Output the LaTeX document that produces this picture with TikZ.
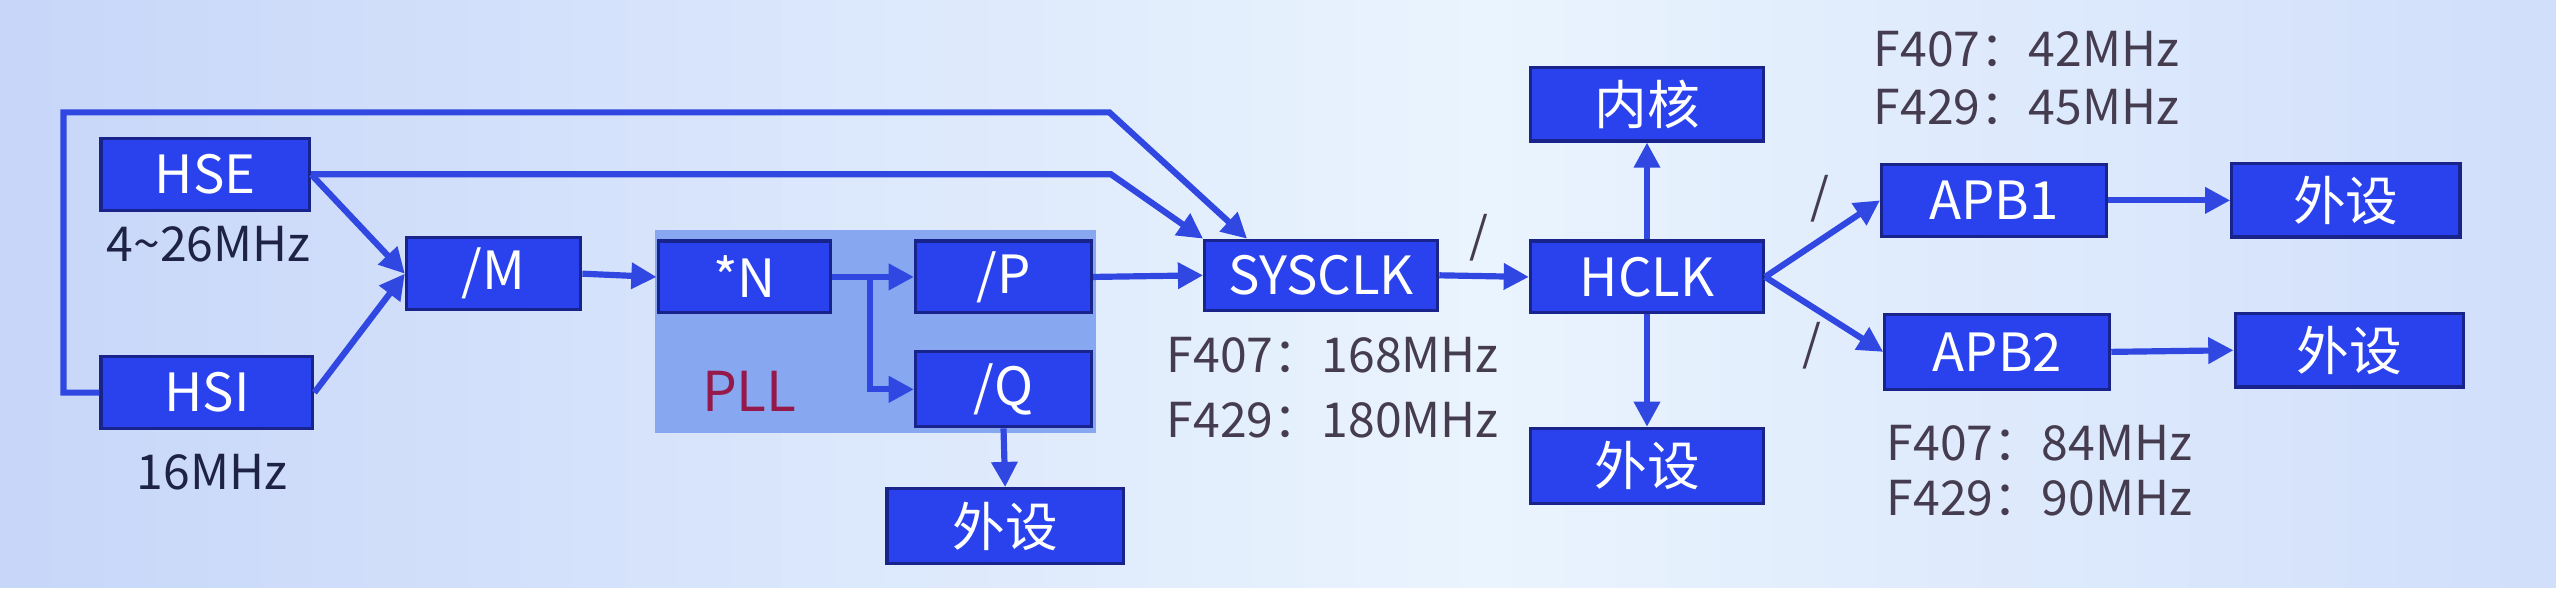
\documentclass[tikz,border=0pt]{standalone}
\usepackage{fontspec}
\setmainfont{Noto Sans CJK SC}
\usetikzlibrary{arrows.meta,calc}

\definecolor{blkfill}{RGB}{42,66,238}
\definecolor{blkedge}{RGB}{25,35,140}
\definecolor{arrowblue}{RGB}{48,72,225}
\definecolor{pllbg}{RGB}{135,168,240}
\definecolor{labelgray}{RGB}{70,60,80}
\definecolor{labelnavy}{RGB}{30,35,70}
\definecolor{pllred}{RGB}{150,25,75}
\definecolor{bgside}{RGB}{200,215,249}
\definecolor{bgmid}{RGB}{234,244,254}

\newcommand{\unitpx}{0.025cm}

\tikzset{
  blk/.style={draw=blkedge, fill=blkfill, text=white, line width=1.4pt, inner sep=0pt, minimum height=44*\unitpx, font=\fontsize{23}{27}\selectfont},
  freq/.style={text=labelgray, inner sep=0pt, font=\fontsize{21}{25}\selectfont},
  arr/.style={draw=arrowblue, line width=2.7pt, -{Triangle[length=11pt,width=11pt]}},
}

\begin{document}
\begin{tikzpicture}[x=\unitpx, y=-\unitpx]

    \foreach \i in {0,...,48} {
        \pgfmathsetmacro\mix{100-abs(\i-28)*100/28}
        \fill[bgmid!\mix!bgside] (\i*32,0) rectangle ++(33,361);
    }
    \useasboundingbox (0,0) rectangle (1568,361);

    \node[fill=pllbg, minimum width=271*\unitpx, minimum height=125*\unitpx, inner sep=0pt] (pll) at (537.5,203.5) {};
    \node[text=pllred, inner sep=0pt, font=\fontsize{24}{28}\selectfont] (plltext) at (460,240) {PLL};

    \node[blk, minimum width=128*\unitpx] (hse) at (126,107) {HSE};
    \node[freq, text=labelnavy] (hsefreq) at (128,150) {4\textasciitilde26MHz};
    \node[blk, minimum width=130*\unitpx] (hsi) at (127,241) {HSI};
    \node[freq, text=labelnavy] (hsifreq) at (130,290) {16MHz};

    \node[blk, minimum width=107*\unitpx] (m) at (303,168) {/M};
    \node[blk, minimum width=106*\unitpx] (n) at (457,170) {*N};
    \node[blk, minimum width=108*\unitpx] (p) at (616,170) {/P};
    \node[blk, minimum width=108*\unitpx, minimum height=46*\unitpx] (q) at (616,239) {/Q};
    \node[blk, minimum width=145*\unitpx, minimum height=46*\unitpx] (qper) at (617,323) {外设};

    \node[blk, minimum width=143*\unitpx, minimum height=43*\unitpx] (sys) at (811,169) {SYSCLK};
    \node[freq, anchor=west] (sysf1) at (716,218) {F407：168MHz};
    \node[freq, anchor=west] (sysf2) at (716,258) {F429：180MHz};

    \node[blk, minimum width=143*\unitpx] (hclk) at (1011,170) {HCLK};
    \node[blk, minimum width=143*\unitpx, minimum height=45*\unitpx] (core) at (1011,64) {内核};
    \node[blk, minimum width=143*\unitpx, minimum height=46*\unitpx] (hper) at (1011,286) {外设};

    \node[blk, minimum width=138*\unitpx] (apb1) at (1224,123) {APB1};
    \node[blk, minimum width=138*\unitpx, minimum height=46*\unitpx] (apb2) at (1226,216) {APB2};
    \node[blk, minimum width=140*\unitpx, minimum height=45*\unitpx] (per1) at (1440,123) {外设};
    \node[blk, minimum width=140*\unitpx, minimum height=45*\unitpx] (per2) at (1442,215) {外设};

    \node[freq, anchor=west] (apb1f1) at (1150,30) {F407：42MHz};
    \node[freq, anchor=west] (apb1f2) at (1150,66) {F429：45MHz};
    \node[freq, anchor=west] (apb2f1) at (1158,272) {F407：84MHz};
    \node[freq, anchor=west] (apb2f2) at (1158,306) {F429：90MHz};

    \node[freq] (divsys) at (908,146) {/};
    \node[freq] (div1) at (1117,122) {/};
    \node[freq] (div2) at (1112,212) {/};

    \draw[arr] (hsi.west) -- ++(-22,0) |- (681,69) -- ($(sys.north west)+(27,0)$);
    \draw[arr] (hse.east) -- (682,107) -- (sys.north west);
    \draw[arr] (hse.east) -- (m.west);
    \draw[arr] (hsi.east) -- (m.west);

    \draw[arr] (m.east) -- (n.west);
    \draw[arr] (n.east) -- (p.west);
    \draw[arr] (n.east) -- ++(23,0) |- (q.west);
    \draw[arr] (q.south) -- (qper.north);
    \draw[arr] (p.east) -- (sys.west);

    \draw[arr] (sys.east) -- (hclk.west);
    \draw[arr] (hclk.north) -- (core.south);
    \draw[arr] (hclk.south) -- (hper.north);
    \draw[arr] (hclk.east) -- (apb1.west);
    \draw[arr] (hclk.east) -- (apb2.west);
    \draw[arr] (apb1.east) -- (per1.west);
    \draw[arr] (apb2.east) -- (per2.west);

\end{tikzpicture}
\end{document}
